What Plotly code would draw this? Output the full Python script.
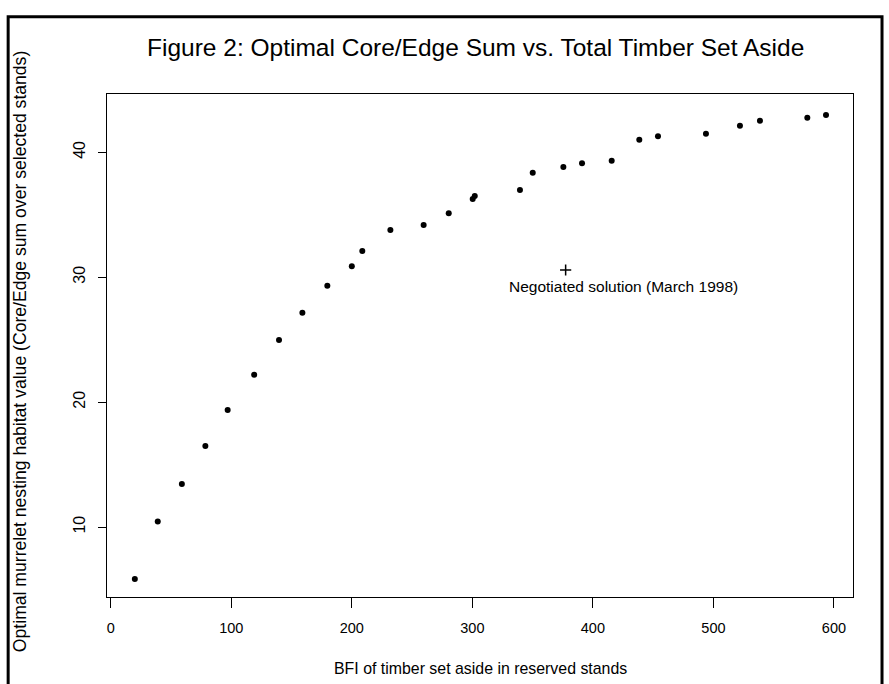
import plotly.graph_objects as go

# ---- data ----
bfi_set_aside = [20, 39, 59, 78.5, 97, 119, 139.6, 159, 179.7, 200, 208.7, 232,
                 259.6, 280.4, 300.3, 302, 339.5, 350.1, 375.5, 391, 415.6,
                 438.5, 454, 493.8, 522, 538.6, 577.9, 593.4]
core_edge_sum = [5.84, 10.45, 13.44, 16.49, 19.37, 22.2, 24.97, 27.16, 29.32,
                 30.87, 32.1, 33.78, 34.18, 35.12, 36.26, 36.5, 36.98, 38.37,
                 38.82, 39.12, 39.33, 41.01, 41.28, 41.49, 42.13, 42.53, 42.77,
                 42.99]
negotiated_x = [377.4]
negotiated_y = [30.58]
negotiated_label = "Negotiated solution (March 1998)"
x_ticks = [0, 100, 200, 300, 400, 500, 600]
y_ticks = [10, 20, 30, 40]

FONT = "Liberation Sans, Arial, Helvetica, sans-serif"

fig = go.Figure()
fig.add_trace(go.Scatter(
    x=bfi_set_aside, y=core_edge_sum, mode="markers",
    marker=dict(symbol="circle", size=6, color="black"),
    showlegend=False, hoverinfo="x+y"))
fig.add_trace(go.Scatter(
    x=negotiated_x, y=negotiated_y, mode="markers",
    marker=dict(symbol="cross-thin", size=8, color="black",
                line=dict(color="black", width=1.5)),
    showlegend=False))

fig.add_annotation(x=425.8, y=29.24, xref="x", yref="y", text=negotiated_label,
                   showarrow=False, font=dict(family=FONT, size=15.5, color="black"),
                   xanchor="center", yanchor="middle")

# titles
fig.add_annotation(x=0.4933, y=1.0915, xref="paper", yref="paper",
                   text="Figure 2: Optimal Core/Edge Sum vs. Total Timber Set Aside",
                   showarrow=False, font=dict(family=FONT, size=24.5, color="black"),
                   xanchor="center", yanchor="middle")
fig.add_annotation(x=0.5, y=-0.1412, xref="paper", yref="paper",
                   text="BFI of timber set aside in reserved stands",
                   showarrow=False, font=dict(family=FONT, size=15.9, color="black"),
                   xanchor="center", yanchor="middle")
fig.add_annotation(x=-0.1165, y=0.487, xref="paper", yref="paper",
                   text="Optimal murrelet nesting habitat value (Core/Edge sum over selected stands)",
                   showarrow=False, textangle=-90,
                   font=dict(family=FONT, size=17.6, color="black"),
                   xanchor="center", yanchor="middle")

# outer frame (open at the bottom)
fig.add_shape(type="path", xref="paper", yref="paper",
              path="M -0.1325,-0.25 L -0.1325,1.1535 L 1.0389,1.1535 L 1.0389,-0.25",
              line=dict(color="black", width=3))

fig.update_layout(
    width=889, height=684,
    margin=dict(l=107, r=36, t=94, b=87),
    paper_bgcolor="white", plot_bgcolor="white",
    font=dict(family=FONT, size=14.5, color="black"),
)
fig.update_xaxes(range=[-3.1, 615.8], tickmode="array", tickvals=x_ticks,
                 ticks="outside", ticklen=10, tickcolor="black", tickwidth=1,
                 showline=True, linecolor="black", linewidth=1, mirror=True,
                 showgrid=False, zeroline=False, ticklabelstandoff=8,
                 tickfont=dict(family=FONT, size=14.5, color="black"))
fig.update_yaxes(range=[4.4, 44.67], tickmode="array", tickvals=y_ticks,
                 ticks="outside", ticklen=8, tickcolor="black", tickwidth=1,
                 showline=True, linecolor="black", linewidth=1, mirror=True,
                 showgrid=False, zeroline=False, tickangle=-90, ticklabelstandoff=7,
                 tickfont=dict(family=FONT, size=16, color="black"))

fig.write_html("out.html", config={"displayModeBar": False},
               post_script="document.body.style.margin='0';")
